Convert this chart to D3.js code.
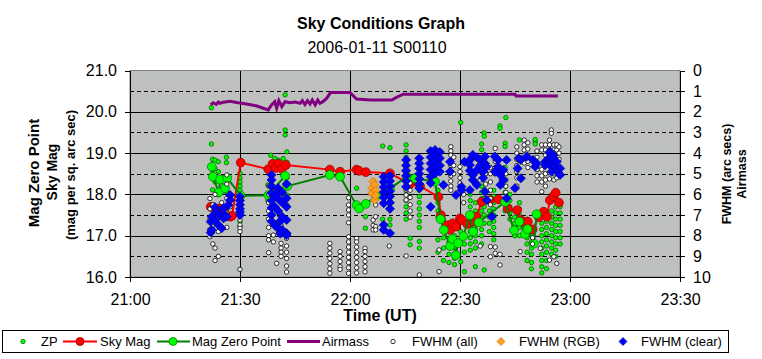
<!DOCTYPE html>
<html><head><meta charset="utf-8">
<script src="https://cdn.jsdelivr.net/npm/d3@7/dist/d3.min.js"></script>
<style>
body{margin:0;background:#fff;}
text{font-family:"Liberation Sans",Arial,sans-serif;}
</style></head>
<body><svg id="c" width="762" height="359"></svg>
<script>
// ---------- DATA (time = minutes after 21:00 UT) ----------
const tickMinutes = [0, 30, 60, 90, 120, 150];
const tickLabels = ["21:00", "21:30", "22:00", "22:30", "23:00", "23:30"];
const magTicks = [16, 17, 18, 19, 20, 21];
const rightTicks = [0, 1, 2, 3, 4, 5, 6, 7, 8, 9, 10];

// Airmass [minute, airmass]
const airmass = [[22.0,1.67],[22.7,1.56],[23.5,1.64],[24.1,1.53],[24.5,1.59],[25.4,1.54],[27.3,1.49],[29.5,1.56],[31.8,1.62],[34.6,1.72],[37.7,1.91],[38.6,1.67],[39.5,1.51],[40.0,1.83],[40.6,1.46],[41.4,1.75],[42.3,1.51],[43.6,1.56],[45.0,1.53],[46.4,1.59],[47.0,1.46],[47.7,1.65],[48.4,1.46],[49.1,1.62],[49.7,1.43],[50.5,1.67],[51.2,1.43],[51.8,1.59],[52.6,1.51],[53.6,1.35],[54.7,1.07],[60.0,1.07],[61.8,1.38],[65.5,1.43],[71.4,1.43],[72.7,1.30],[74.5,1.15],[105.0,1.15],[105.3,1.23],[116.7,1.23]];

// Sky Mag [minute, mag]
const skyMag = [[22.0,17.70],[23.5,17.62],[24.3,17.66],[25.4,17.50],[25.7,17.60],[27.3,17.46],[27.8,17.48],[30.2,18.77],[37.7,18.61],[38.9,18.74],[39.8,18.64],[40.5,18.74],[41.4,18.62],[42.5,18.71],[54.5,18.60],[57.3,18.55],[61.8,18.60],[62.5,18.57],[64.3,18.54],[70.9,18.51],[76.4,18.25],[79.1,18.20],[84.1,17.94],[84.8,17.50],[86.5,17.25],[87.3,17.14],[88.0,17.30],[88.9,17.22],[90.0,17.42],[90.5,17.38],[92.0,17.28],[93.6,17.34],[94.5,17.46],[95.9,17.82],[98.2,17.86],[100.5,17.88],[103.0,17.66],[105.6,17.62],[106.6,17.38],[107.6,17.30],[108.5,17.34],[109.8,17.15],[111.5,17.45],[112.8,17.58],[113.7,17.46],[114.5,17.86],[115.5,17.96],[116.1,18.04],[117.0,17.80]];

// Mag Zero Point [minute, mag]
const magZero = [[22.3,18.67],[22.6,18.43],[24.2,18.05],[24.6,18.36],[25.9,18.15],[26.5,18.40],[30.2,17.97],[37.7,17.98],[42.3,18.45],[42.9,18.20],[54.5,18.47],[57.3,18.43],[61.8,17.74],[62.5,17.66],[64.3,17.77],[67.3,17.97],[70.9,18.14],[75.5,18.43],[77.7,18.39],[83.2,18.31],[84.7,17.40],[85.6,17.14],[87.3,16.75],[87.9,16.92],[88.9,16.53],[89.5,16.82],[90.9,16.99],[92.7,17.50],[93.6,17.10],[95.1,17.32],[102.3,17.82],[104.7,17.13],[106.2,17.34],[107.7,17.04],[108.4,17.16],[110.2,16.81],[110.9,17.52]];

// ZP (individual frames) [minute, [mag...]]
const zpCols = [
 [22.2,[20.10,19.22,18.71,18.47]],[22.5,[18.85,18.59,18.11,17.45]],[23.2,[18.83,18.62,18.30]],
 [24.1,[18.79,18.55,17.99]],[25.4,[18.18,18.40]],[26.3,[18.90,18.77,18.06]],
 [30.0,[18.51,18.40,18.30,18.20,18.10,17.34,17.22]],
 [37.6,[18.23,17.86]],[38.4,[18.95,18.06,17.62]],[39.5,[18.87]],[40.4,[18.83]],[41.8,[18.87]],
 [42.3,[20.41,19.56,19.44]],[42.8,[19.03,18.78,18.40,17.98,17.74]],
 [61.8,[18.15]],[64.2,[17.46,17.18]],[68.9,[19.17,17.40,17.14]],[70.9,[19.13,17.40,17.26]],
 [75.3,[19.20,19.05,18.90,18.75,18.60,18.45,18.30,18.15,18.00,17.85,17.70,17.55,17.40]],
 [76.4,[16.94,16.78]],[78.9,[18.10,17.95,17.80,17.65,17.50,17.35,17.20,16.86,16.70]],
 [84.0,[18.10,17.95,17.80,17.60,17.45,16.90,16.60]],[85.5,[17.40,17.20,16.95,16.70,16.40]],
 [87.0,[17.30,17.10,16.85,16.55,16.35]],[88.5,[17.00,16.70,16.45,16.30]],
 [90.2,[19.74,17.10,16.90,16.37]],[91.2,[16.13,16.60,16.80]],
 [92.8,[18.00,17.85,17.70,17.55,17.40,17.25,17.10,16.95,16.80,16.65]],
 [94.2,[17.80,17.60,17.45,17.30,17.15,17.00,16.85,16.70,16.25]],
 [95.9,[19.22,19.08,18.20,18.05,17.90,17.75,17.60,17.45,17.30,17.15,17.00,16.80]],
 [96.6,[19.49,19.41,18.10,17.90,17.70,17.50,17.30,16.17]],
 [98.0,[17.80,17.60,17.45,17.30,17.10]],[99.2,[18.10,17.95,17.80,17.65,17.50,17.35,17.20,17.05,16.90]],
 [100.9,[19.66,19.60]],[102.5,[19.86]],
 [102.3,[19.24,19.16,18.65,18.50,18.35,18.20,18.05,17.90,17.75,17.60]],
 [103.6,[18.00,17.85,17.70,17.55,17.40]],[104.9,[17.60,17.45,17.30,17.15,17.00]],
 [106.2,[19.32,17.80,17.65,17.50,17.35,17.20,17.00]],
 [108.3,[17.40,17.25,17.10,16.95,16.80,16.60,16.40]],[109.5,[17.20,17.00,16.85,16.70,16.55,16.35,16.20]],
 [110.5,[19.28,19.22,19.33]],
 [112.3,[17.30,17.15,17.00,16.85,16.70,16.55,16.40,16.25,16.10]],
 [113.6,[17.50,17.35,17.20,17.05,16.90,16.75,16.60,16.40,16.20]],
 [115.0,[17.60,17.45,17.30,17.15,17.00,16.85,16.70,16.55]],
 [116.1,[17.85,17.70,17.55,17.40,17.25,17.10,16.95,16.80,16.65,16.50]],
 [117.3,[17.70,17.55,17.40,17.25,17.10,16.95,16.80]]
];

// FWHM (all) [minute, [arcsec...]]
const fwhmAllCols = [
 [21.8,[6.2,6.7,7.2,7.7,8.05]],[22.6,[6.5,7.0,7.5,8.4]],[23.2,[6.0,6.9,7.4,8.6,9.2]],
 [24.1,[7.8,9.0]],[25.0,[6.4,7.1]],[26.4,[5.06,5.5,6.2,6.9,7.6]],[27.3,[6.6]],
 [30.0,[7.24,7.48,7.64,7.8,9.63]],
 [37.8,[5.6,6.0,6.4,6.8,7.2,7.6,8.0,8.2,8.82]],[39.1,[7.97,8.3]],[40.0,[9.34]],[40.5,[6.8,7.3,7.8]],
 [41.2,[7.5,8.37,8.6,8.8,9.0]],[42.7,[8.13,8.5,8.8,9.1,9.47,9.76]],
 [54.5,[8.37,8.6,8.85,9.1,9.35,9.6,9.82]],[57.3,[8.77,9.0,9.25,9.5,9.63]],
 [59.6,[6.16,6.51,6.75,7.0,7.37,8.05,8.3,8.55,8.8,9.05,9.3,9.55,9.82]],
 [61.8,[8.13,8.3,8.55,8.8,9.05,9.3,9.55,9.8]],[64.1,[8.61,8.77,9.0,9.25,9.5,9.75]],
 [66.3,[7.24,7.5,7.72]],[67.0,[6.51,7.08,7.56,7.72]],[70.7,[8.5]],
 [75.3,[5.79,6.03,6.27,8.98]],[76.4,[5.45,5.8,6.15,6.5,6.8,7.1]],[78.9,[9.9]],
 [84.3,[8.69,9.74]],
 [87.5,[3.69,3.9,4.1,4.35,4.6,4.85,5.1,5.35,5.6,5.8]],[88.3,[4.2,4.6,5.0]],
 [90.0,[4.66,4.9,5.2,5.45,5.63]],[91.0,[6.0,6.4]],
 [95.5,[4.5,4.9,5.3,8.5]],[97.0,[4.2,4.6,5.0,5.5]],
 [98.3,[4.7,5.0,5.4,5.8,6.2,6.5,8.53,9.02]],[99.6,[3.77,4.1,4.4,4.7,5.0,8.55,8.85]],
 [100.9,[8.9,9.42]],[102.5,[5.0,5.3,5.6,5.9]],
 [105.5,[3.7,4.0,4.3,4.6,4.9,5.2,5.6]],[106.4,[8.77]],
 [107.5,[3.37,3.6,3.85,4.1,4.48]],[108.5,[3.5,3.8,4.1,4.4,4.7]],[109.8,[8.1,8.4]],
 [111.0,[3.9,4.2,4.5,4.8,5.1,5.4]],[111.9,[8.61]],
 [112.3,[3.6,3.85,4.8,5.1,5.4,5.87]],[113.3,[3.6,3.85,4.1,5.0,5.3,5.6]],
 [114.4,[3.37,3.6,3.85,4.95,5.25,9.18]],[114.9,[2.88,3.04]],
 [115.6,[3.6,3.85,4.1,5.0,5.3,9.02]],[116.4,[3.6,3.85,4.9,5.2,9.34]],[117.0,[3.7,4.0,4.3]]
];

// FWHM (RGB) [minute, [arcsec...]]
const fwhmRgbCols = [[66.0,[5.7,5.95]],[66.3,[5.38]],[66.7,[5.54,6.27]],[67.0,[5.82,6.05]]];

// FWHM (clear) [minute, [arcsec...]]
const fwhmClearCols = [
 [22.0,[7.32,7.85]],[22.3,[7.08,7.72]],[23.2,[6.62,7.24]],[23.6,[6.84]],[24.1,[7.48]],[24.5,[7.0]],
 [25.0,[7.64]],[25.5,[6.67,7.16]],[25.9,[7.0]],[26.4,[7.08]],[26.8,[6.51]],[27.3,[6.03,6.27]],
 [30.0,[6.1,6.3,6.5,6.7,6.85,7.0]],
 [38.6,[5.06,5.3,5.6,5.95,6.3,6.65,7.0,7.3]],[39.5,[6.0,6.6,7.5]],[40.4,[5.7,6.2,6.8,7.64]],
 [41.0,[7.3,7.9]],[41.5,[5.9,6.4,7.08,7.72]],[42.7,[5.5,6.19,6.6,7.24,7.88,7.97]],
 [69.2,[5.14,5.4,5.65,5.9,6.15,6.43,7.48,7.72]],[70.9,[5.1,5.35,5.6,5.85,6.1,6.4,6.7,7.88]],
 [75.3,[4.33,4.6,4.85,5.1,5.35,5.63]],[78.9,[4.25,4.5,4.75,5.0,5.25,5.5,5.7]],
 [82.0,[3.9,4.2,4.5,4.8,5.14,5.45,6.6]],[83.2,[3.85,4.1,4.4,4.7,5.0]],[84.5,[3.95,4.25,4.6,4.9]],
 [85.5,[5.54]],[87.3,[4.42,4.9]],[88.9,[6.03]],[90.4,[5.63,5.8]],[91.2,[4.42]],
 [92.7,[4.33,4.58,4.85,5.79]],[93.5,[4.09,5.06,5.3]],[94.6,[4.2,4.82,5.54]],[95.5,[4.33,4.6]],
 [96.3,[4.9,5.2]],[96.8,[4.17,4.5,5.87]],[97.3,[4.66,6.27]],[98.7,[7.08]],
 [99.5,[4.17,4.9]],[100.4,[4.33,4.66]],[101.0,[5.06,5.54]],[101.8,[4.82,5.3]],[102.7,[4.33,6.19]],
 [105.0,[5.7]],[105.7,[4.74]],[106.0,[4.25]],[106.6,[4.33,5.22]],
 [108.2,[4.17]],[109.9,[4.33]],[110.5,[4.66]],[110.9,[4.5]],
 [113.2,[4.42,4.58]],[114.2,[4.25,4.5]],[114.5,[3.93,4.01,4.58]],[115.0,[4.3,4.9]],
 [115.5,[4.1,4.25,4.66]],[116.0,[4.66]],[116.4,[4.42]],[116.9,[4.98]],[117.3,[4.74,5.06]]
];

// ---------- DRAW ----------
const flat = cols => cols.flatMap(([t, vs]) => vs.map(v => [t, v]));
const zp = flat(zpCols), fAll = flat(fwhmAllCols), fRgb = flat(fwhmRgbCols), fClear = flat(fwhmClearCols);

const svg = d3.select("#c");
const L = 130, R = 680, T = 70.5, B = 277;
const x = d3.scaleLinear().domain([0, 150]).range([L, R]);
const yL = d3.scaleLinear().domain([16, 21]).range([B, T]);
const yR = d3.scaleLinear().domain([0, 10]).range([T, B]);

const defs = svg.append("defs");
const pat = defs.append("pattern").attr("id", "stip").attr("width", 4).attr("height", 6).attr("patternUnits", "userSpaceOnUse");
pat.append("rect").attr("width", 4).attr("height", 6).attr("fill", "#c0c0c0");
pat.append("rect").attr("x", 1).attr("y", 1).attr("width", 1).attr("height", 1).attr("fill", "#9fc89f");
pat.append("rect").attr("x", 3).attr("y", 4).attr("width", 1).attr("height", 1).attr("fill", "#b0bcb0");
defs.append("clipPath").attr("id", "clip").append("rect").attr("x", L).attr("y", T - 1).attr("width", R - L).attr("height", B - T + 1);

svg.append("rect").attr("width", 762).attr("height", 359).attr("fill", "#fff");
svg.append("rect").attr("x", L).attr("y", T).attr("width", R - L).attr("height", B - T).attr("fill", "url(#stip)").attr("stroke", "#808080").attr("stroke-width", 1);

// gridlines
const grid = svg.append("g").attr("shape-rendering", "crispEdges");
rightTicks.filter(d => d > 0 && d < 10).forEach(d => {
  grid.append("line").attr("x1", L).attr("x2", R).attr("y1", Math.round(yR(d)) + 0.5).attr("y2", Math.round(yR(d)) + 0.5)
    .attr("stroke", "#000").attr("stroke-width", 1).attr("stroke-dasharray", d % 2 ? "4,3" : null);
});
tickMinutes.filter(d => d > 0 && d < 150).forEach(d => {
  grid.append("line").attr("x1", Math.round(x(d)) + 0.5).attr("x2", Math.round(x(d)) + 0.5).attr("y1", T).attr("y2", B).attr("stroke", "#000");
});

// axes
const fs = "16px";
const ax = svg.append("g").attr("font-family", "Liberation Sans, Arial, sans-serif");
const gl = ax.append("g").attr("transform", `translate(${L},0)`)
  .call(d3.axisLeft(yL).tickValues(magTicks).tickFormat(d3.format(".1f")).tickSize(5).tickSizeOuter(0).tickPadding(8));
const gr = ax.append("g").attr("transform", `translate(${R},0)`)
  .call(d3.axisRight(yR).tickValues(rightTicks).tickFormat(d3.format("d")).tickSize(5).tickSizeOuter(0).tickPadding(8));
const gb = ax.append("g").attr("transform", `translate(0,${B})`)
  .call(d3.axisBottom(x).tickValues(tickMinutes).tickFormat((d, i) => tickLabels[i]).tickSize(5).tickSizeOuter(0).tickPadding(12));
[gl, gr, gb].forEach(g => {
  g.selectAll("text").attr("font-size", fs).attr("fill", "#000").attr("font-family", "Liberation Sans, Arial, sans-serif");
  g.selectAll("line,path").attr("stroke", "#000").attr("shape-rendering", "crispEdges");
});

// series
const plot = svg.append("g").attr("clip-path", "url(#clip)");
const lineL = d3.line().x(d => x(d[0])).y(d => yL(d[1]));
const lineR = d3.line().x(d => x(d[0])).y(d => yR(d[1]));
const diamond = r => `M0,${-r}L${r},0L0,${r}L${-r},0Z`;

// ZP
plot.append("g").selectAll("circle").data(zp).join("circle")
  .attr("cx", d => x(d[0])).attr("cy", d => yL(d[1])).attr("r", 2.2)
  .attr("fill", "#00ff00").attr("stroke", "#006400").attr("stroke-width", 0.8);
// Sky Mag
plot.append("path").datum(skyMag).attr("d", lineL).attr("fill", "none").attr("stroke", "#ff0000").attr("stroke-width", 2);
plot.append("g").selectAll("circle").data(skyMag).join("circle")
  .attr("cx", d => x(d[0])).attr("cy", d => yL(d[1])).attr("r", 4.4)
  .attr("fill", "#ff0000").attr("stroke", "#a00000").attr("stroke-width", 0.8);
// Mag Zero Point
plot.append("path").datum(magZero).attr("d", lineL).attr("fill", "none").attr("stroke", "#008000").attr("stroke-width", 2);
plot.append("g").selectAll("circle").data(magZero).join("circle")
  .attr("cx", d => x(d[0])).attr("cy", d => yL(d[1])).attr("r", 4.4)
  .attr("fill", "#00ff00").attr("stroke", "#008000").attr("stroke-width", 0.8);
// Airmass
plot.append("path").datum(airmass).attr("d", lineR).attr("fill", "none").attr("stroke", "#800080").attr("stroke-width", 3);
// FWHM all
plot.append("g").selectAll("circle").data(fAll).join("circle")
  .attr("cx", d => x(d[0])).attr("cy", d => yR(d[1])).attr("r", 2.2)
  .attr("fill", "#ffffff").attr("stroke", "#000").attr("stroke-width", 0.8);
// FWHM RGB
plot.append("g").selectAll("path").data(fRgb).join("path")
  .attr("transform", d => `translate(${x(d[0])},${yR(d[1])})`).attr("d", diamond(4.3))
  .attr("fill", "#ffa020").attr("stroke", "#c06000").attr("stroke-width", 0.6);
// FWHM clear
plot.append("g").selectAll("path").data(fClear).join("path")
  .attr("transform", d => `translate(${x(d[0])},${yR(d[1])})`).attr("d", diamond(4.6))
  .attr("fill", "#0000ff").attr("stroke", "#000080").attr("stroke-width", 0.6);

// titles
const txt = (s, xx, yy, size, weight, rot) => {
  const t = svg.append("text").text(s).attr("font-size", size + "px").attr("font-weight", weight || "normal")
    .attr("text-anchor", "middle").attr("fill", "#000");
  if (rot) t.attr("transform", `translate(${xx},${yy}) rotate(-90)`); else t.attr("x", xx).attr("y", yy);
  return t;
};
txt("Sky Conditions Graph", 381, 29, 16, "bold");
txt("2006-01-11 S00110", 377, 53, 16);
txt("Time (UT)", 380, 321, 16, "bold");
txt("Mag Zero Point", 39, 173, 15, "bold", true);
txt("Sky Mag", 57, 172, 14, "bold", true);
txt("(mag per sq. arc sec)", 75, 175, 13, "bold", true);
txt("FWHM (arc secs)", 731, 174, 12.5, "bold", true);
txt("Airmass", 746, 174, 12.5, "bold", true);

// legend
const lg = svg.append("g");
lg.append("rect").attr("x", 2.5).attr("y", 330.5).attr("width", 726).attr("height", 22).attr("fill", "#fff").attr("stroke", "#000");
const ly = 341.5;
const legendItems = [
  {label: "ZP", tx: 41, kind: "dot", mx: 23, fill: "#00ff00", stroke: "#006400"},
  {label: "Sky Mag", tx: 100, kind: "line", x1: 63, x2: 97, mx: 80, lc: "#ff0000", fill: "#ff0000", stroke: "#a00000", lw: 2},
  {label: "Mag Zero Point", tx: 192, kind: "line", x1: 157, x2: 190, mx: 173, lc: "#008000", fill: "#00ff00", stroke: "#008000", lw: 2},
  {label: "Airmass", tx: 322, kind: "lineonly", x1: 287, x2: 320, lc: "#800080", lw: 3},
  {label: "FWHM (all)", tx: 412, kind: "dot", mx: 393, fill: "#fff", stroke: "#000"},
  {label: "FWHM (RGB)", tx: 519, kind: "dia", mx: 501, fill: "#ffa020", stroke: "#c06000"},
  {label: "FWHM (clear)", tx: 641, kind: "dia", mx: 623, fill: "#0000ff", stroke: "#000080"}
];
legendItems.forEach(it => {
  if (it.kind === "line" || it.kind === "lineonly")
    lg.append("line").attr("x1", it.x1).attr("x2", it.x2).attr("y1", ly).attr("y2", ly).attr("stroke", it.lc).attr("stroke-width", it.lw);
  if (it.kind === "line")
    lg.append("circle").attr("cx", it.mx).attr("cy", ly).attr("r", 4).attr("fill", it.fill).attr("stroke", it.stroke).attr("stroke-width", 0.8);
  if (it.kind === "dot")
    lg.append("circle").attr("cx", it.mx).attr("cy", ly).attr("r", 2.2).attr("fill", it.fill).attr("stroke", it.stroke).attr("stroke-width", 0.8);
  if (it.kind === "dia")
    lg.append("path").attr("transform", `translate(${it.mx},${ly})`).attr("d", diamond(4)).attr("fill", it.fill).attr("stroke", it.stroke).attr("stroke-width", 0.6);
  lg.append("text").text(it.label).attr("x", it.tx).attr("y", ly + 4.8).attr("font-size", "13px").attr("fill", "#000");
});
</script></body></html>
